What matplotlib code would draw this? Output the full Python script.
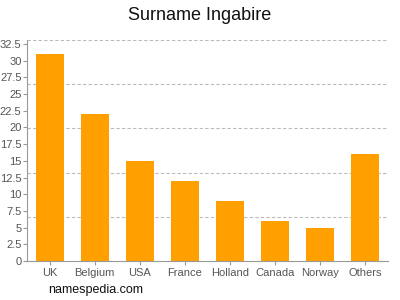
import matplotlib
matplotlib.use("Agg")
import matplotlib.pyplot as plt
import numpy as np

plt.rcParams['font.family'] = ['Liberation Sans', 'DejaVu Sans']

# surname distribution by country
countries = ['UK', 'Belgium', 'USA', 'France', 'Holland', 'Canada', 'Norway', 'Others']
counts = [31, 22, 15, 12, 9, 6, 5, 16]
y_top = 33.1
y_ticks = np.arange(0, 33, 2.5)
y_labels = ['0', '2.5', '5', '7.5', '10', '12.5', '15', '17.5', '20', '22.5', '25', '27.5', '30', '32.5']

fig = plt.figure(figsize=(4, 3), dpi=100)
ax = fig.add_axes([0.0675, 0.13, 0.9025, 0.7367])

# dashed grid lines split the axis in five
for g in np.linspace(0, y_top, 6)[1:]:
    ax.axhline(g, color='#bbbbbb', linestyle=(0, (3, 2)), linewidth=0.8, zorder=0)

ax.bar(range(len(countries)), counts, width=0.62, color='#ffa000', zorder=2)

ax.set_xlim(-0.5, len(countries) - 0.5)
ax.set_ylim(0, y_top)
ax.set_xticks(range(len(countries)))
ax.set_xticklabels(countries)
ax.set_yticks(y_ticks)
ax.set_yticklabels(y_labels)
ax.tick_params(axis='both', colors='#999999', labelcolor='#555555', labelsize=8, length=3, width=0.8, pad=2)
ax.tick_params(axis='y', pad=1)

for side in ['top', 'right']:
    ax.spines[side].set_visible(False)
for side in ['left', 'bottom']:
    ax.spines[side].set_color('#999999')
    ax.spines[side].set_linewidth(0.8)

fig.text(0.5, 0.95, 'Surname Ingabire', ha='center', va='center', fontsize=13, color='#111111')
fig.text(0.12, 0.033, 'namespedia.com', ha='left', va='center', fontsize=9, color='#111111')

fig.savefig('out.png', dpi=100)
